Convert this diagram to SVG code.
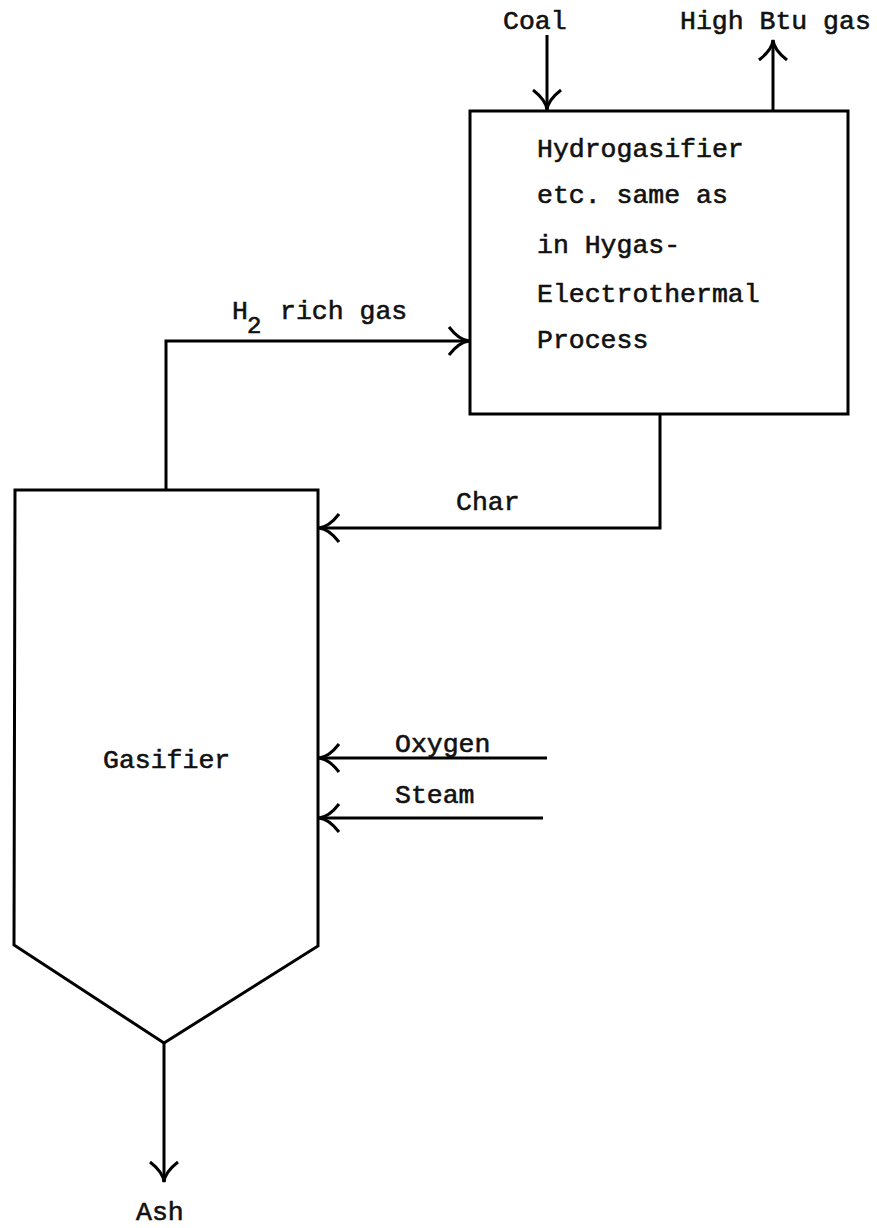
<svg xmlns="http://www.w3.org/2000/svg" width="877" height="1228" viewBox="0 0 877 1228">
<style>
  .t { font-family: "Liberation Mono", "Courier New", monospace; font-size: 26.5px; fill: #111; stroke: #111; stroke-width: 0.6; }
  .ln { fill: none; stroke: #000; stroke-width: 3; stroke-linejoin: miter; }
  .shape { fill: #fff; stroke: #000; stroke-width: 3; stroke-linejoin: miter; }
</style>
<defs>
  <marker id="arr" markerUnits="userSpaceOnUse" viewBox="-24 -16 28 32" refX="0" refY="0" markerWidth="28" markerHeight="32" orient="auto" overflow="visible">
    <path d="M -20 -14 Q -10 -1 0 0 Q -10 1 -20 14" fill="none" stroke="#000" stroke-width="3"/>
  </marker>
</defs>
<rect width="877" height="1228" fill="#fff"/>

<g id="connectors">
  <line class="ln" x1="547" y1="35" x2="547" y2="110" marker-end="url(#arr)"/>
  <line class="ln" x1="773" y1="111" x2="773" y2="40" marker-end="url(#arr)"/>
  <polyline class="ln" points="166,490 166,341 469,341" marker-end="url(#arr)"/>
  <polyline class="ln" points="660,414 660,528 319,528" marker-end="url(#arr)"/>
  <line class="ln" x1="547" y1="758" x2="319" y2="758" marker-end="url(#arr)"/>
  <line class="ln" x1="543" y1="818" x2="319" y2="818" marker-end="url(#arr)"/>
  <line class="ln" x1="164" y1="1043" x2="164" y2="1182" marker-end="url(#arr)"/>
</g>

<g id="hydrogasifier">
  <rect class="shape" x="470" y="111" width="378" height="303"/>
  <text class="t" x="537" y="157">Hydrogasifier</text>
  <text class="t" x="537" y="203">etc. same as</text>
  <text class="t" x="537" y="253">in Hygas-</text>
  <text class="t" x="537" y="302">Electrothermal</text>
  <text class="t" x="537" y="348">Process</text>
</g>

<g id="gasifier">
  <polygon class="shape" points="15,490 318,490 318,946 164,1043 14,945"/>
  <text class="t" x="103" y="768">Gasifier</text>
</g>

<g id="labels">
  <text class="t" x="503" y="29">Coal</text>
  <text class="t" x="680" y="29">High Btu gas</text>
  <text class="t" x="232" y="319">H</text>
  <text class="t" x="247" y="333" style="font-size:24px">2</text>
  <text class="t" x="280" y="319">rich gas</text>
  <text class="t" x="456" y="510">Char</text>
  <text class="t" x="395" y="752">Oxygen</text>
  <text class="t" x="395" y="803">Steam</text>
  <text class="t" x="136" y="1220">Ash</text>
</g>
</svg>
